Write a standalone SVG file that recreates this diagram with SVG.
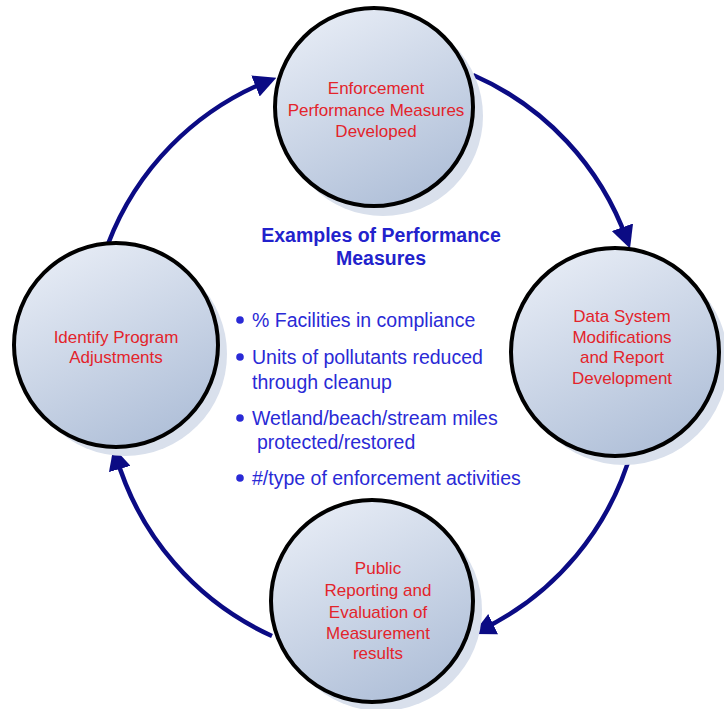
<svg xmlns="http://www.w3.org/2000/svg" width="724" height="709" viewBox="0 0 724 709">
<style>
.shadow{fill:#d9e0ec}
.node{fill:url(#g);stroke:#000;stroke-width:4}
.lbl{font-family:"Liberation Sans",Arial,sans-serif;font-size:17px;fill:#e3242b;text-anchor:middle}
.conn{fill:none;stroke:#0b0b84;stroke-width:4.5;marker-end:url(#ah)}
.title{font-family:"Liberation Sans",Arial,sans-serif;font-size:19.5px;font-weight:bold;fill:#2222cc;text-anchor:middle}
.bul{font-family:"Liberation Sans",Arial,sans-serif;font-size:19.5px;fill:#2a2ad6}
.dot{fill:#2a2ad6}
</style>
<defs>
<linearGradient id="g" x1="0.2" y1="0" x2="0.7" y2="1">
<stop offset="0" stop-color="#e8edf6"/>
<stop offset="1" stop-color="#afbfd8"/>
</linearGradient>
<marker id="ah" viewBox="0 0 10 10" refX="6" refY="5" markerWidth="5" markerHeight="5" markerUnits="strokeWidth" orient="auto">
<path d="M0,0 L10,5 L0,10 Z" fill="#0b0b84"/>
</marker>
</defs>
<rect width="724" height="709" fill="#fff"/>
<g id="connectors">
<path class="conn" d="M108,244 A285,285 0 0 1 268,81"/>
<path class="conn" d="M473,75 A285,285 0 0 1 627,240"/>
<path class="conn" d="M632,449 A285,285 0 0 1 481,630"/>
<path class="conn" d="M272,636 A285,285 0 0 1 116,456"/>
</g>
<g id="node-top">
<circle class="shadow" cx="383" cy="116" r="100"/>
<circle class="node" cx="374" cy="107" r="99"/>
<text class="lbl" x="376" y="94">Enforcement</text>
<text class="lbl" x="376" y="116">Performance Measures</text>
<text class="lbl" x="376" y="137">Developed</text>
</g>
<g id="node-right">
<circle class="shadow" cx="624" cy="361" r="104"/>
<circle class="node" cx="615" cy="352" r="104"/>
<text class="lbl" x="622" y="322">Data System</text>
<text class="lbl" x="622" y="343">Modifications</text>
<text class="lbl" x="622" y="363">and Report</text>
<text class="lbl" x="622" y="384">Development</text>
</g>
<g id="node-bottom">
<circle class="shadow" cx="381" cy="610" r="101"/>
<circle class="node" cx="372" cy="601" r="101"/>
<text class="lbl" x="378" y="574">Public</text>
<text class="lbl" x="378" y="596">Reporting and</text>
<text class="lbl" x="378" y="618">Evaluation of</text>
<text class="lbl" x="378" y="639">Measurement</text>
<text class="lbl" x="378" y="659">results</text>
</g>
<g id="node-left">
<circle class="shadow" cx="125" cy="354" r="102"/>
<circle class="node" cx="116" cy="345" r="102"/>
<text class="lbl" x="116" y="343">Identify Program</text>
<text class="lbl" x="116" y="363">Adjustments</text>
</g>
<g id="examples">
<text class="title" x="381" y="242">Examples of Performance</text>
<text class="title" x="381" y="265">Measures</text>
<circle class="dot" cx="240" cy="320" r="3.8"/>
<text class="bul" x="252" y="327">% Facilities in compliance</text>
<circle class="dot" cx="240" cy="357" r="3.8"/>
<text class="bul" x="252" y="364">Units of pollutants reduced</text>
<text class="bul" x="252" y="389">through cleanup</text>
<circle class="dot" cx="240" cy="418" r="3.8"/>
<text class="bul" x="252" y="425">Wetland/beach/stream miles</text>
<text class="bul" x="257" y="449">protected/restored</text>
<circle class="dot" cx="240" cy="478" r="3.8"/>
<text class="bul" x="252" y="485">#/type of enforcement activities</text>
</g>
</svg>
